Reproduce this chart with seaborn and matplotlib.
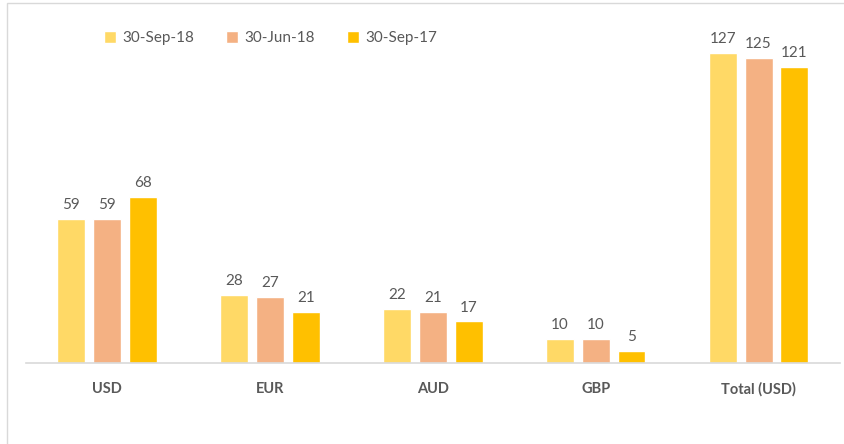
import pandas as pd
import numpy as np
import matplotlib
matplotlib.use("Agg")
import matplotlib.pyplot as plt
import seaborn as sb
from matplotlib.patches import Rectangle

categories = ["USD", "EUR", "AUD", "GBP", "Total (USD)"]
series = ["30-Sep-18", "30-Jun-18", "30-Sep-17"]
sep18 = [59, 28, 22, 10, 127]
jun18 = [59, 27, 21, 10, 125]
sep17 = [68, 21, 17, 5, 121]
colors = ["#FFD966", "#F4B183", "#FFC000"]

rows = []
for s, vals in zip(series, [sep18, jun18, sep17]):
    for c, v in zip(categories, vals):
        rows.append({"cat": c, "series": s, "value": v})
df = pd.DataFrame(rows)

sb.set_style("white")
plt.rcParams["font.family"] = ["Lato", "DejaVu Sans"]
txt = "#595959"

fig = plt.figure(figsize=(8.44, 4.44), dpi=100)
ax = fig.add_axes([25.5 / 844, 81 / 444, 814.5 / 844, 342 / 444])
sb.barplot(data=df, x="cat", y="value", hue="series", palette=colors,
           order=categories, hue_order=series, width=0.66, gap=0.22,
           saturation=1, ax=ax, legend=True)
ax.set_ylim(0, 140)
ax.set_xlim(-0.5, 4.5)

for cont in ax.containers:
    ax.bar_label(cont, padding=5, color=txt, fontsize=11)

for sp in ["top", "right", "left"]:
    ax.spines[sp].set_visible(False)
ax.spines["bottom"].set_color("#D9D9D9")
ax.spines["bottom"].set_linewidth(1.2)
ax.set_yticks([])
ax.set_xlabel("")
ax.set_ylabel("")
ax.tick_params(axis="x", length=0, pad=14)
for t in ax.get_xticklabels():
    t.set_fontweight("bold")
    t.set_color(txt)
    t.set_fontsize(10.5)

h, l = ax.get_legend_handles_labels()
ax.get_legend().remove()
fig.legend(h, l, loc="center left", bbox_to_anchor=(90 / 844, 1 - 38 / 444),
           ncol=3, frameon=False, fontsize=11, labelcolor=txt,
           handlelength=0.8, handleheight=0.8, handletextpad=0.4,
           columnspacing=2.1)

fig.patches.append(Rectangle((7 / 844, -0.1), 1.2, 1.1 - 3 / 444, transform=fig.transFigure,
                             fill=False, edgecolor="#D9D9D9", linewidth=1))

plt.savefig("out.png", dpi=100)
